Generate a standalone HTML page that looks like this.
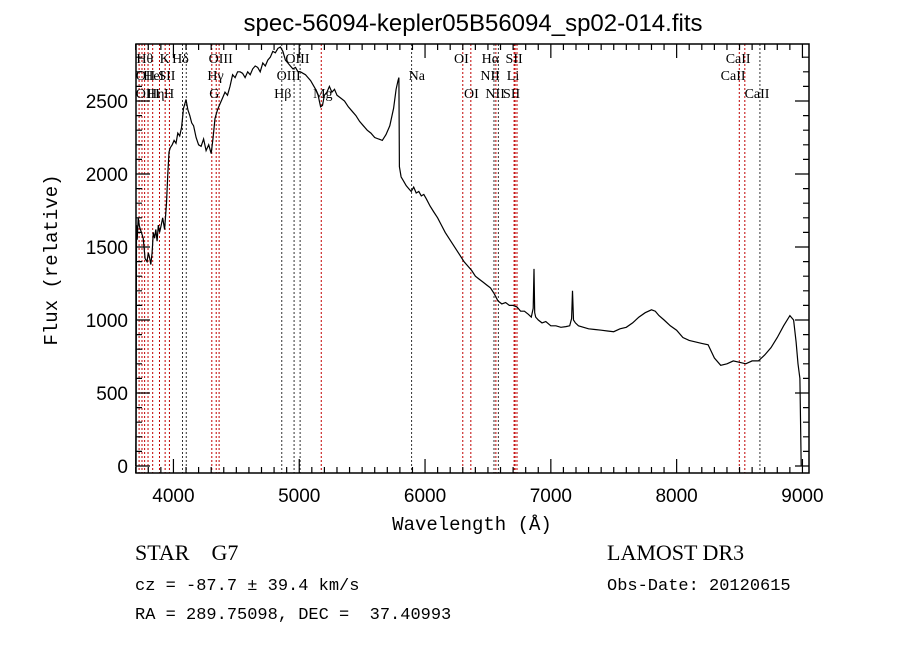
<!DOCTYPE html>
<html><head><meta charset="utf-8"><style>
body{margin:0;background:#fff;}
svg{display:block;font-family:"Liberation Sans",sans-serif;}
text{white-space:pre;}
</style></head><body>
<svg id="chart" width="900" height="649" viewBox="0 0 900 649" xmlns="http://www.w3.org/2000/svg" xml:space="preserve">
<text x="473" y="31" font-size="24" text-anchor="middle">spec-56094-kepler05B56094_sp02-014.fits</text>
<g id="lines"></g>
<g id="spec"></g>
<g id="axes"></g>
<text x="472" y="530" font-size="19" font-family="Liberation Mono, monospace" text-anchor="middle">Wavelength (Å)</text>
<text transform="translate(57,260) rotate(-90)" font-size="19" font-family="Liberation Mono, monospace" text-anchor="middle">Flux (relative)</text>
<g font-family="Liberation Serif, serif">
<text x="135" y="560" font-size="22">STAR    G7</text>
<text x="607" y="560" font-size="22">LAMOST DR3</text>
<text x="135" y="590" font-size="17" font-family="Liberation Mono, monospace">cz = -87.7 ± 39.4 km/s</text>
<text x="607" y="590" font-size="17" font-family="Liberation Mono, monospace">Obs-Date: 20120615</text>
<text x="135" y="619" font-size="17" font-family="Liberation Mono, monospace">RA = 289.75098, DEC =  37.40993</text>
</g>
</svg>
<script>
const wave=[3700,3703,3706,3712,3720,3730,3745,3760,3775,3790,3800,3810,3820,3830,3840,3850,3860,3870,3880,3890,3900,3915,3930,3945,3955,3965,3975,3990,4005,4020,4035,4050,4065,4080,4090,4100,4115,4130,4145,4160,4180,4200,4220,4240,4260,4280,4300,4315,4330,4350,4370,4390,4410,4430,4450,4470,4490,4510,4530,4550,4570,4590,4610,4630,4650,4670,4690,4710,4730,4750,4770,4790,4810,4830,4850,4870,4890,4910,4930,4950,4970,4990,5010,5030,5050,5070,5090,5110,5130,5150,5170,5185,5200,5220,5240,5260,5280,5300,5330,5360,5390,5420,5450,5480,5510,5540,5570,5600,5630,5660,5690,5720,5750,5770,5785,5792,5796,5810,5830,5850,5870,5890,5910,5930,5950,5970,5990,6010,6040,6070,6100,6130,6160,6190,6220,6250,6280,6310,6340,6370,6400,6430,6460,6490,6520,6550,6580,6610,6640,6670,6700,6730,6760,6790,6820,6845,6860,6866,6872,6880,6900,6930,6960,7000,7040,7080,7120,7150,7165,7172,7180,7195,7220,7260,7300,7350,7400,7450,7500,7550,7600,7650,7700,7750,7800,7830,7860,7900,7950,8000,8050,8100,8150,8200,8250,8300,8350,8400,8450,8500,8550,8600,8650,8700,8750,8800,8850,8900,8930,8950,8965,8980,8990,9000,9005];
const flux=[0,300,1650,1550,1700,1640,1600,1560,1420,1400,1460,1430,1380,1460,1600,1560,1620,1540,1650,1600,1640,1700,1620,1800,2000,2150,2180,2200,2230,2210,2280,2260,2320,2450,2480,2510,2440,2400,2350,2330,2250,2200,2190,2240,2160,2200,2140,2250,2380,2440,2480,2520,2560,2540,2600,2680,2660,2700,2700,2690,2660,2700,2680,2720,2740,2730,2700,2760,2740,2780,2800,2840,2830,2860,2870,2840,2780,2760,2740,2720,2730,2700,2700,2690,2680,2660,2640,2610,2580,2540,2460,2470,2540,2560,2600,2560,2580,2540,2520,2500,2460,2430,2400,2360,2330,2300,2280,2250,2240,2230,2270,2330,2450,2580,2640,2660,2050,1980,1950,1920,1900,1880,1910,1870,1880,1850,1860,1830,1780,1740,1700,1650,1600,1560,1520,1480,1440,1400,1370,1340,1300,1280,1260,1240,1220,1180,1130,1110,1120,1100,1100,1090,1060,1060,1040,1020,1080,1350,1050,1020,1000,980,990,960,960,950,955,960,1010,1200,1000,980,960,950,940,935,930,925,920,940,950,980,1020,1050,1070,1060,1030,1000,960,930,880,860,850,840,830,740,690,700,720,710,700,720,720,760,810,880,960,1030,1000,850,700,600,0];
const lineWave=[3727,3750,3771,3798,3835,3889,3934,3968,4072,4102,4305,4340,4363,4861,4959,5007,5175,5893,6300,6364,6548,6563,6583,6708,6716,6731,8498,8542,8662];
const lineColor=['r','r','r','r','r','r','r','r','k','k','r','r','r','k','k','k','r','k','r','r','k','r','k','r','r','r','r','r','k'];
const lineLabels=[["OII",3700,75],["OIII",3700,93],["Hθ",3705,58],["HeI",3760,75],["Hη",3790,93],["K",3890,58],["SII",3880,75],["H",3925,93],["Hδ",3990,58],["OIII",4280,58],["Hγ",4270,75],["G",4285,93],["OIII",4890,58],["OIII",4820,75],["Hβ",4800,93],["Mg",5110,93],["Na",5870,75],["OI",6230,58],["OI",6310,93],["Hα",6450,58],["SII",6640,58],["NII",6440,75],["Li",6650,75],["NII",6480,93],["SII",6620,93],["CaII",8390,58],["CaII",8350,75],["CaII",8540,93]];
const xTicks=[4000,5000,6000,7000,8000,9000];
const yTicks=[0,500,1000,1500,2000,2500];
const L=136,R=809,T=44,B=473;
const X=w=>135.7+(w-3700)*0.1258;
const Y=f=>466-f*0.146;
const NS='http://www.w3.org/2000/svg';
function mk(tag,attrs,parent){const e=document.createElementNS(NS,tag);for(const k in attrs)e.setAttribute(k,attrs[k]);parent.appendChild(e);return e;}
const gl=document.getElementById('lines');
lineWave.forEach((w,i)=>{const l=mk('line',{x1:X(w),x2:X(w),y1:T,y2:B,stroke:lineColor[i]=='r'?'#c00000':'#333','stroke-width':1,'stroke-dasharray':'2,2'},gl);

});
lineLabels.forEach(a=>{const t=mk('text',{x:X(a[1]),y:a[2]+5,'font-size':14,'font-family':'Liberation Serif, serif'},gl);t.textContent=a[0];

});
const gs=document.getElementById('spec');
const p=mk('polyline',{points:wave.map((w,i)=>X(w).toFixed(1)+','+Y(flux[i]).toFixed(1)).join(' '),fill:'none',stroke:'#000','stroke-width':1.2},gs);


const ga=document.getElementById('axes');
const fr=mk('rect',{x:L,y:T,width:R-L,height:B-T,fill:'none',stroke:'#000','stroke-width':1.5},ga);


let d='';
for(let w=3700;w<=9000;w+=100){const x=X(w);const big=w%1000==0;const h=big?14:6;d+=`M${x},${B}v${-h}M${x},${T}v${h}`;}
for(let f=0;f<=2800;f+=100){const y=Y(f);const big=f%500==0;const h=big?14:6;d+=`M${L},${y}h${h}M${R},${y}h${-h}`;}
const tk=mk('path',{d:d,stroke:'#000','stroke-width':1.2,fill:'none'},ga);


xTicks.forEach(w=>{const t=mk('text',{x:X(w),y:B+29,'font-size':19,'text-anchor':'middle'},ga);t.textContent=w;

});
yTicks.forEach(f=>{const t=mk('text',{x:L-8,y:Y(f)+7,'font-size':19,'text-anchor':'end'},ga);t.textContent=f;

});
</script>
</body></html>
